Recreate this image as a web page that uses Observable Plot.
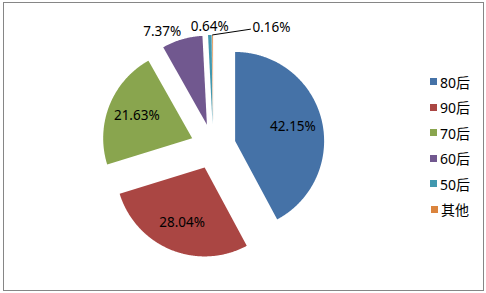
<!DOCTYPE html>
<html>
<head>
<meta charset="utf-8">
<script src="https://cdn.jsdelivr.net/npm/d3@7"></script>
<script src="https://cdn.jsdelivr.net/npm/@observablehq/plot@0.6"></script>
<style>
  body { margin: 0; background: #fff; }
  #wrap { position: relative; width: 486px; height: 293px; overflow: hidden; background: #fff;
          font-family: "Noto Sans", "Noto Sans CJK SC", sans-serif; }
  #wrap > svg { position: absolute; left: 0; top: 0; }
  #border { position: absolute; left: 3px; top: 2px; width: 479px; height: 287px;
            border: 1px solid #868686; pointer-events: none; }
  #legend { position: absolute; left: 430px; top: 69px; }
  #legend .leg-swatches { font: 14px "Noto Sans", "Noto Sans CJK SC", sans-serif !important; color: #000;
            display: flex !important; flex-direction: column !important; margin: 0 !important; min-height: 0 !important; }
  #legend .leg-swatch { height: 25.5px !important; margin: 0 !important; display: flex !important; align-items: center !important; }
  #legend .leg-swatch > svg { margin-right: 3px !important; }
</style>
</head>
<body>
<div id="wrap"><div id="border"></div><div id="legend"></div></div>
<script>
// ---- data ----
const categories = ["80后", "90后", "70后", "60后", "50后", "其他"];
const shares = [42.15, 28.04, 21.63, 7.37, 0.64, 0.16];
const colors = ["#4572A7", "#AA4643", "#89A54E", "#71588F", "#4198AF", "#DB843D"];

// ---- layout ----
const W = 486, H = 293;
const CX = 212.7, CY = 146, R = 89;      // pie centre / radius in pixels
const EXPLODE = 22.6 / R;                // slice explosion (fraction of radius)
const INSIDE_K = 0.67;                    // inside label distance from slice apex
const OUTSIDE_K = 1.04;                   // outside label distance
const FS = 13.5;
const leaderNudge = {"其他": [37.8, -5.7]}; // pixel nudge for crowded label

const total = d3.sum(shares);
const slices = [];
let acc = 0;
shares.forEach((v, i) => {
  const a0 = acc / total * 2 * Math.PI;
  acc += v;
  const a1 = acc / total * 2 * Math.PI;
  const mid = (a0 + a1) / 2;
  slices.push({key: categories[i], value: v, label: v.toFixed(2) + "%", a0, a1, mid,
    ox: EXPLODE * Math.sin(mid), oy: EXPLODE * Math.cos(mid)});
});

// polygon rows for each slice
const rows = [];
for (const s of slices) {
  rows.push({key: s.key, x: s.ox, y: s.oy});
  const n = Math.max(2, Math.ceil((s.a1 - s.a0) / (0.4 * Math.PI / 180)));
  for (let j = 0; j <= n; j++) {
    const t = s.a0 + (s.a1 - s.a0) * j / n;
    rows.push({key: s.key, x: s.ox + Math.sin(t), y: s.oy + Math.cos(t)});
  }
  rows.push({key: s.key, x: s.ox, y: s.oy});
}

const inside = slices.filter(s => s.value >= 10).map(s => ({label: s.label,
  x: s.ox + INSIDE_K * Math.sin(s.mid), y: s.oy + INSIDE_K * Math.cos(s.mid)}));

const outsideMarks = [];
for (const s of slices.filter(s => s.value < 10)) {
  const ux = Math.sin(s.mid), uy = Math.cos(s.mid);
  if (leaderNudge[s.key]) {
    const [ndx, ndy] = leaderNudge[s.key];
    const p0 = {x: s.ox + ux, y: s.oy + uy};
    const p1 = {x: p0.x + ndx / R, y: p0.y - ndy / R, label: s.label};
    outsideMarks.push(Plot.line([p0, p1], {x: "x", y: "y", stroke: "#000", strokeWidth: 1}));
    outsideMarks.push(Plot.text([p1], {x: "x", y: "y", text: "label", textAnchor: "start",
      lineAnchor: "middle", dx: 2, dy: -2, fontSize: FS, fill: "#000"}));
  } else {
    const p = {x: s.ox + OUTSIDE_K * ux, y: s.oy + OUTSIDE_K * uy, label: s.label};
    const textAnchor = ux < -0.2 ? "end" : ux > 0.2 ? "start" : "middle";
    const lineAnchor = uy > 0 ? "bottom" : "top";
    outsideMarks.push(Plot.text([p], {x: "x", y: "y", text: "label", textAnchor, lineAnchor,
      fontSize: FS, fill: "#000"}));
  }
}

const plot = Plot.plot({
  width: W, height: H, margin: 0,
  style: {background: "transparent", fontFamily: "'Noto Sans', 'Noto Sans CJK SC', sans-serif"},
  x: {domain: [-CX / R, (W - CX) / R], axis: null},
  y: {domain: [-(H - CY) / R, CY / R], axis: null},
  color: {domain: categories, range: colors},
  marks: [
    Plot.line(rows, {x: "x", y: "y", z: "key", fill: "key", stroke: "none", curve: "linear"}),
    Plot.text(inside, {x: "x", y: "y", text: "label", fontSize: FS, fill: "#000"}),
    ...outsideMarks
  ]
});
document.getElementById("wrap").insertBefore(plot, document.getElementById("border"));

const leg = Plot.legend({color: {domain: categories, range: colors}, legend: "swatches",
  swatchSize: 7, className: "leg"});
document.getElementById("legend").appendChild(leg);
</script>
</body>
</html>
